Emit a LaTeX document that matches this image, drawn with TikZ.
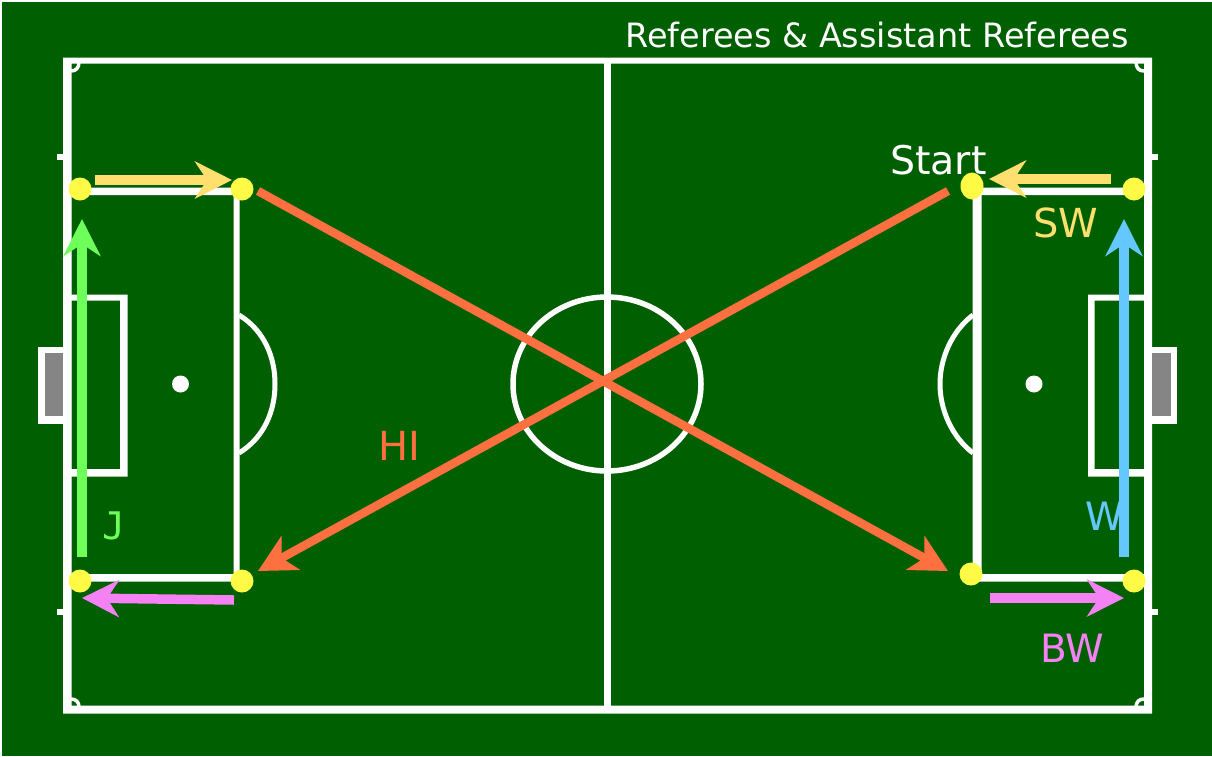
\documentclass[tikz,border=0pt]{standalone}
\usepackage{fontspec}
\setmainfont{DejaVu Sans}
\newfontfamily\jfont{DejaVu Sans Mono}
\usetikzlibrary{arrows.meta,shapes.geometric}
\definecolor{pitch}{RGB}{0,95,0}
\definecolor{dotc}{RGB}{255,250,70}
\definecolor{ygold}{RGB}{255,224,110}
\definecolor{jgreen}{RGB}{110,255,90}
\definecolor{wblue}{RGB}{100,200,255}
\definecolor{bwpink}{RGB}{245,130,245}
\definecolor{hiorange}{RGB}{255,112,64}
\tikzset{
  x=1pt,y=-1pt,
  markline/.style={fill=white,even odd rule},
  thinline/.style={draw=white,line width=5pt},
  goalfill/.style={fill=black!48},
  refdot/.style={circle,fill=dotc,inner sep=0pt,minimum size=23pt},
  tallrefdot/.style={ellipse,fill=dotc,inner sep=0pt,minimum width=23pt,minimum height=27pt},
  runarrow/.style={line width=9.5pt,-{Stealth[length=37pt,width=37pt,inset=12pt]}},
  hiarrow/.style={draw=hiorange,line width=8.5pt,-{Stealth[length=37pt,width=38pt,inset=10pt]}},
  lbl/.style={anchor=base west,inner sep=0pt,font=\fontsize{39}{42}\selectfont},
}
\begin{document}
\begin{tikzpicture}
\useasboundingbox (0,0) rectangle (1212,756);
\fill[white] (0,0) rectangle (1212,756);
\fill[pitch] (2,2) rectangle (1212,756);
% outer lines
\fill[markline] (63,57.5) rectangle (1152,713.5) (71.5,63.5) rectangle (1144,705.5);
\fill[markline] (603.5,63) rectangle (610.5,706);
% penalty areas
\fill[markline] (71,187.5) rectangle (239.5,581.5) (71,195) rectangle (233.5,574);
\fill[markline] (972.5,187.5) rectangle (1144,581.5) (981.5,195) rectangle (1144,574);
% goal areas
\fill[markline] (71,294.5) rectangle (127.5,476.5) (71,300.5) rectangle (120,469);
\fill[markline] (1088,294.5) rectangle (1144,476.5) (1094.5,300.5) rectangle (1144,469);
% goals
\fill[markline] (38,347) rectangle (63,423.5);
\fill[goalfill] (45,353) rectangle (63,416);
\fill[markline] (1152,347) rectangle (1177,423.5);
\fill[goalfill] (1152,353) rectangle (1171,416);
% ticks
\fill[markline] (57,154) rectangle (63,160);
\fill[markline] (57,609) rectangle (63,615);
\fill[markline] (1152,154) rectangle (1158,160);
\fill[markline] (1152,609) rectangle (1158,615);
% corners
\draw[thinline,line width=3.5pt] (71,71) .. controls (76,71) and (79,68) .. (79,62);
\draw[thinline,line width=3.5pt] (1144,71) .. controls (1139,71) and (1136,68) .. (1136,62);
\draw[thinline,line width=3.5pt] (71,699) .. controls (76,699) and (79,702) .. (79,707);
\draw[thinline,line width=3.5pt] (1144,699) .. controls (1139,699) and (1136,702) .. (1136,707);
% arcs and circle
\draw[thinline] (239,315) .. controls (265,331) and (275,358) .. (275,384) .. controls (275,410) and (265,437) .. (239,453);
\draw[thinline] (973,315) .. controls (952,331) and (940,358) .. (940,384) .. controls (940,410) and (952,437) .. (973,453);
\draw[thinline,line width=5.5pt] (607,384) ellipse [x radius=94,y radius=87];
\fill[white] (180.5,384) circle (8.5);
\fill[white] (1034,384) circle (8.5);
% referee positions
\node[refdot] (tl) at (80,189) {};
\node[refdot] (tm) at (242,189) {};
\node[refdot] (bl) at (80,581) {};
\node[refdot] (bm) at (242,581) {};
\node[refdot] (tr) at (1134,189) {};
\node[tallrefdot] (tn) at (972,186) {};
\node[refdot] (bn) at (971,574) {};
\node[refdot] (br) at (1134,581) {};
% free arrow ends
\coordinate (a1s) at (95,180);  \coordinate (a1e) at (232,180);
\coordinate (a2s) at (1111,179); \coordinate (a2e) at (989,179);
\coordinate (a3s) at (82,557);  \coordinate (a3e) at (82,219);
\coordinate (a4s) at (1124,557); \coordinate (a4e) at (1124,219);
\coordinate (a5s) at (234,600); \coordinate (a5e) at (82,598);
\coordinate (a6s) at (990,598); \coordinate (a6e) at (1124,598);
\coordinate (h1s) at (258,191); \coordinate (h1e) at (948,571);
\coordinate (h2s) at (948,191); \coordinate (h2e) at (258,571);
% runs
\draw[runarrow,draw=ygold,fill=ygold] (a1s) -- (a1e);
\draw[runarrow,draw=ygold,fill=ygold] (a2s) -- (a2e);
\draw[runarrow,draw=jgreen,fill=jgreen] (a3s) -- (a3e);
\draw[runarrow,draw=wblue,fill=wblue] (a4s) -- (a4e);
\draw[runarrow,draw=bwpink,fill=bwpink] (a5s) -- (a5e);
\draw[runarrow,draw=bwpink,fill=bwpink] (a6s) -- (a6e);
\draw[hiarrow,fill=hiorange] (h1s) -- (h1e);
\draw[hiarrow,fill=hiorange] (h2s) -- (h2e);
% labels
\node[lbl,text=white,font=\fontsize{33.5}{36}\selectfont] (title) at (625,47) {Referees \& Assistant Referees};
\node[lbl,text=white,font=\fontsize{39.5}{42}\selectfont] (start) at (890,174) {Start};
\node[lbl,text=ygold,font=\fontsize{40}{42}\selectfont] (sw) at (1033,237) {SW};
\node[lbl,text=hiorange,font=\fontsize{40}{42}\selectfont] (hi) at (378,460) {HI};
\node[lbl,text=jgreen,font=\fontsize{38}{42}\jfont] (j) at (102,539) {J};
\node[lbl,text=wblue] (w) at (1085,530) {W};
\node[lbl,text=bwpink] (bw) at (1040,662) {BW};
\end{tikzpicture}
\end{document}
